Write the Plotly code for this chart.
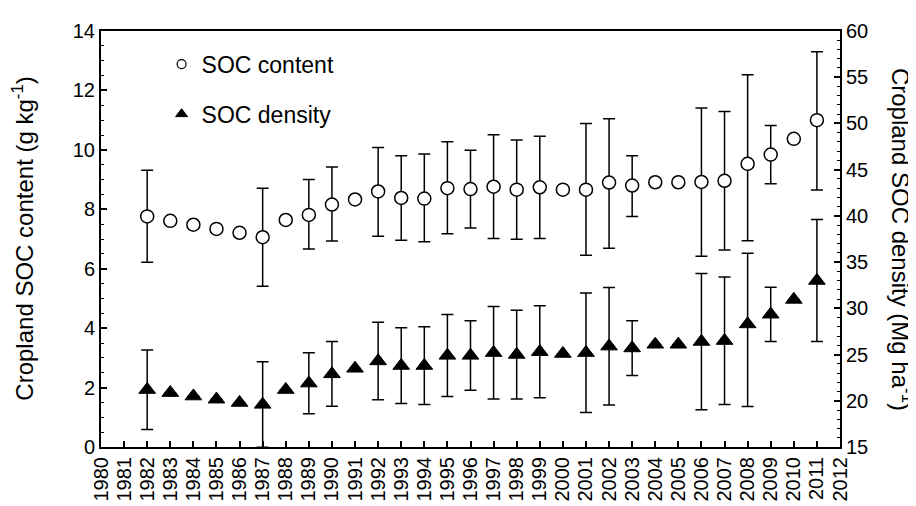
import plotly.graph_objects as go

years = list(range(1982, 2012))

# SOC content (g/kg), left axis
content = [7.76, 7.61, 7.48, 7.34, 7.21, 7.06, 7.64, 7.81, 8.16, 8.33,
           8.60, 8.38, 8.36, 8.71, 8.68, 8.76, 8.66, 8.74, 8.66, 8.66,
           8.90, 8.80, 8.91, 8.91, 8.92, 8.96, 9.53, 9.84, 10.37, 11.00]
N = float("nan")
content_err_plus = [1.55, N, N, N, N, 1.65, N, 1.19, 1.26, N,
                    1.48, 1.42, 1.50, 1.56, 1.31, 1.75, 1.67, 1.72, N, 2.23,
                    2.15, 1.00, N, N, 2.49, 2.33, 3.00, 0.98, N, 2.30]
content_err_minus = [1.54, N, N, N, N, 1.65, N, 1.15, 1.23, N,
                     1.51, 1.42, 1.45, 1.53, 1.31, 1.74, 1.67, 1.72, N, 2.21,
                     2.21, 1.04, N, N, 2.50, 2.33, 2.59, 0.98, N, 2.35]

# SOC density (Mg/ha), right axis
density = [21.2, 20.87, 20.5, 20.16, 19.8, 19.6, 21.2, 21.9, 22.9, 23.5,
           24.3, 23.8, 23.8, 24.9, 24.9, 25.2, 25.0, 25.3, 25.1, 25.2,
           25.9, 25.7, 26.1, 26.1, 26.4, 26.5, 28.3, 29.35, 30.95, 33.0]
density_err_plus = [4.3, 0, 0, 0, 0, 4.63, 0, 3.3, 3.5, 0,
                    4.2, 4.1, 4.2, 4.44, 3.76, 5.0, 4.8, 4.97, 0, 6.46,
                    6.36, 2.97, 0, 0, 7.36, 6.89, 7.66, 2.94, 0, 6.6]
density_err_minus = [4.3, 0, 0, 0, 0, 4.63, 0, 3.3, 3.5, 0,
                     4.2, 4.1, 4.2, 4.44, 3.76, 5.0, 4.8, 4.97, 0, 6.46,
                     6.36, 2.97, 0, 0, 7.36, 6.89, 8.92, 2.94, 0, 6.6]

year_ticks = list(range(1980, 2013))
FONT = "Liberation Sans, Arial, Helvetica, sans-serif"
FS = 20      # tick labels
FT = 24      # axis titles
FL = 23      # legend

fig = go.Figure()

fig.add_trace(go.Scatter(
    x=years, y=content, mode="markers", name="SOC content",
    showlegend=False,
    marker=dict(symbol="circle", size=13, color="white",
                line=dict(color="black", width=1.5)),
    error_y=dict(type="data", symmetric=False, array=content_err_plus,
                 arrayminus=content_err_minus, color="black",
                 thickness=1.5, width=6),
    yaxis="y", cliponaxis=False,
))
fig.add_trace(go.Scatter(
    x=years, y=density, mode="markers", name="SOC density",
    showlegend=False,
    marker=dict(symbol="triangle-up", size=14.5, color="black",
                line=dict(color="black", width=1)),
    error_y=dict(type="data", symmetric=False, array=density_err_plus,
                 arrayminus=density_err_minus, color="black",
                 thickness=1.5, width=6),
    yaxis="y2", cliponaxis=False,
))
# legend entries (smaller symbols, as in the reference legend)
fig.add_trace(go.Scatter(
    x=[None], y=[None], mode="markers", name="SOC content",
    legendgroup="a",
    marker=dict(symbol="circle", size=9, color="white",
                line=dict(color="black", width=1.2)),
))
fig.add_trace(go.Scatter(
    x=[None], y=[None], mode="markers", name="SOC density",
    legendgroup="b",
    marker=dict(symbol="triangle-up", size=10.5, color="black",
                line=dict(color="black", width=1)),
))

fig.update_layout(
    width=916, height=506,
    margin=dict(l=93, r=84, t=17, b=62),
    paper_bgcolor="white", plot_bgcolor="white",
    font=dict(family=FONT, size=FS, color="black"),
    showlegend=True,
    legend=dict(x=0.082, y=0.972, xanchor="left", yanchor="top",
                bgcolor="rgba(0,0,0,0)", font=dict(size=FL),
                traceorder="grouped", tracegroupgap=17,
                itemwidth=30),
    xaxis=dict(range=[1980, 2012], tickmode="array", tickvals=year_ticks,
               ticktext=[str(y) for y in year_ticks], tickangle=-90,
               ticks="inside", ticklen=6, tickwidth=1.5, tickcolor="black",
               showline=True, linecolor="black", linewidth=2, mirror=True,
               showgrid=False, zeroline=False,
               tickfont=dict(size=FS)),
    yaxis=dict(range=[0, 14], tickmode="linear", tick0=0, dtick=2,
               ticks="inside", ticklen=6, tickwidth=1.5, tickcolor="black",
               minor=dict(ticks="inside", ticklen=3, tickwidth=1.2,
                          dtick=0.5, tickcolor="black", showgrid=False),
               showline=True, linecolor="black", linewidth=2,
               showgrid=False, zeroline=False,
               tickfont=dict(size=FS)),
    yaxis2=dict(range=[15, 60], tickmode="linear", tick0=15, dtick=5,
                overlaying="y", side="right",
                ticks="inside", ticklen=6, tickwidth=1.5, tickcolor="black",
                minor=dict(ticks="inside", ticklen=3, tickwidth=1.2,
                           dtick=1, tickcolor="black", showgrid=False),
                showline=True, linecolor="black", linewidth=2,
                showgrid=False, zeroline=False,
                tickfont=dict(size=FS)),
    annotations=[
        dict(text="Cropland SOC content (g kg<sup>-1</sup>)",
             xref="paper", yref="paper", x=-0.106, y=0.5,
             xanchor="center", yanchor="middle", textangle=-90,
             showarrow=False, font=dict(size=FT)),
        dict(text="Cropland SOC density (Mg ha<sup>-1</sup>)",
             xref="paper", yref="paper", x=1.084, y=0.5,
             xanchor="center", yanchor="middle", textangle=90,
             showarrow=False, font=dict(size=FT)),
    ],
)

fig.write_html("out.html")
